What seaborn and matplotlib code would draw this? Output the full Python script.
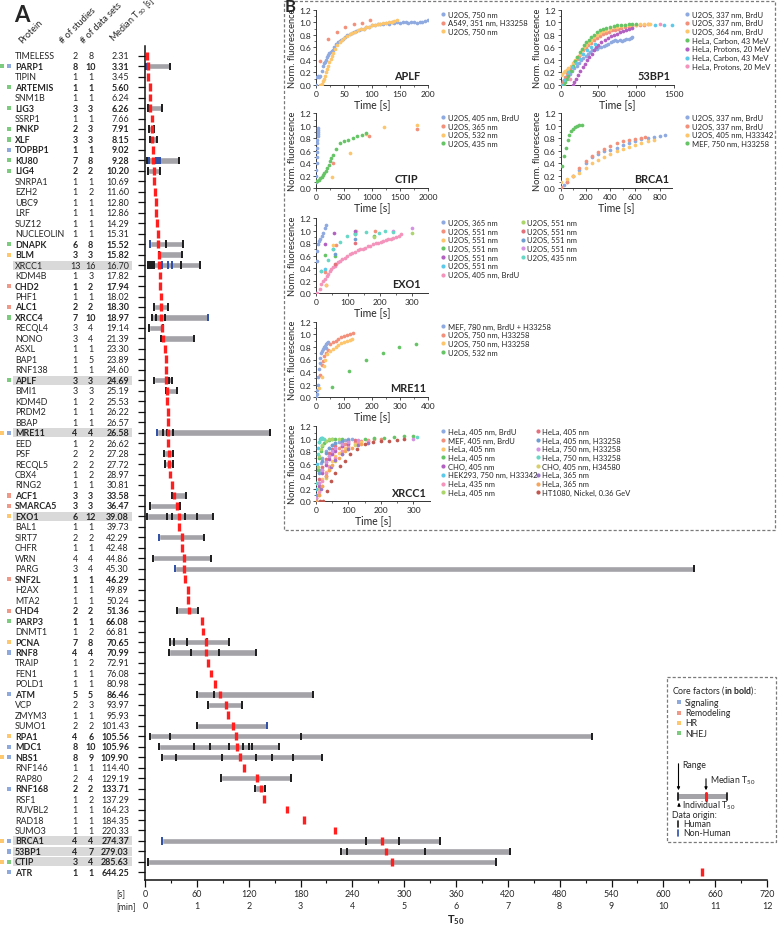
import numpy as np
import seaborn as sns
import matplotlib.pyplot as plt
from matplotlib import transforms
from matplotlib.patches import Rectangle

W, H = 779, 929

# ---------------- panel A data ----------------
proteins = ["TIMELESS", "PARP1", "TIPIN", "ARTEMIS", "SNM1B", "LIG3", "SSRP1", "PNKP", "XLF", "TOPBP1",
            "KU80", "LIG4", "SNRPA1", "EZH2", "UBC9", "LRF", "SUZ12", "NUCLEOLIN", "DNAPK", "BLM",
            "XRCC1", "KDM4B", "CHD2", "PHF1", "ALC1", "XRCC4", "RECQL4", "NONO", "ASXL", "BAP1",
            "RNF138", "APLF", "BMI1", "KDM4D", "PRDM2", "BBAP", "MRE11", "EED", "PSF", "RECQL5",
            "CBX4", "RING2", "ACF1", "SMARCA5", "EXO1", "BAL1", "SIRT7", "CHFR", "WRN", "PARG",
            "SNF2L", "H2AX", "MTA2", "CHD4", "PARP3", "DNMT1", "PCNA", "RNF8", "TRAIP", "FEN1",
            "POLD1", "ATM", "VCP", "ZMYM3", "SUMO1", "RPA1", "MDC1", "NBS1", "RNF146", "RAP80",
            "RNF168", "RSF1", "RUVBL2", "RAD18", "SUMO3", "BRCA1", "53BP1", "CTIP", "ATR"]
n_studies = [2, 8, 1, 1, 1, 3, 1, 2, 3, 1, 7, 2, 1, 1, 1, 1, 1, 1, 6, 3,
             13, 1, 1, 1, 2, 7, 3, 3, 1, 1, 1, 3, 3, 1, 1, 1, 4, 1, 2, 2,
             1, 1, 3, 3, 6, 1, 2, 1, 4, 3, 1, 1, 1, 2, 1, 1, 7, 4, 1, 1,
             1, 5, 2, 1, 2, 4, 8, 8, 1, 2, 2, 1, 1, 1, 1, 4, 4, 3, 1]
n_datasets = [8, 10, 1, 1, 1, 3, 1, 3, 3, 1, 8, 2, 1, 2, 1, 1, 1, 1, 8, 3,
              16, 3, 2, 1, 2, 10, 4, 4, 1, 5, 1, 3, 3, 2, 1, 1, 4, 2, 2, 2,
              2, 1, 3, 3, 12, 1, 2, 1, 4, 4, 1, 1, 1, 2, 1, 2, 8, 4, 2, 1,
              1, 5, 3, 1, 2, 6, 10, 9, 1, 4, 2, 2, 1, 1, 1, 4, 7, 4, 1]
median_t50 = [2.31, 3.31, 3.45, 5.60, 6.24, 6.26, 7.66, 7.91, 8.15, 9.02,
              9.28, 10.20, 10.69, 11.60, 12.80, 12.86, 14.29, 15.31, 15.52, 15.82,
              16.70, 17.82, 17.94, 18.02, 18.30, 18.97, 19.14, 21.39, 23.30, 23.89,
              24.60, 24.69, 25.19, 25.53, 26.22, 26.57, 26.58, 26.62, 27.28, 27.72,
              28.97, 30.81, 33.58, 36.47, 39.08, 39.73, 42.29, 42.48, 44.86, 45.30,
              46.29, 49.89, 50.24, 51.36, 66.08, 66.81, 70.65, 70.99, 72.91, 76.08,
              80.98, 86.46, 93.97, 95.93, 101.43, 105.56, 105.96, 109.90, 114.40, 129.19,
              133.71, 137.29, 164.23, 184.35, 220.33, 274.37, 279.03, 285.63, 644.25]

# core factors: main class and (for some) an additional class
core_main = {"PARP1": "Signaling", "ARTEMIS": "NHEJ", "LIG3": "NHEJ", "PNKP": "NHEJ", "XLF": "NHEJ",
             "TOPBP1": "Signaling", "KU80": "NHEJ", "LIG4": "NHEJ", "DNAPK": "NHEJ", "BLM": "HR",
             "CHD2": "Remodeling", "ALC1": "Remodeling", "XRCC4": "NHEJ", "APLF": "NHEJ",
             "MRE11": "Signaling", "ACF1": "Remodeling", "SMARCA5": "Remodeling", "EXO1": "HR",
             "SNF2L": "Remodeling", "CHD4": "Remodeling", "PARP3": "NHEJ", "PCNA": "HR",
             "RNF8": "Signaling", "ATM": "Signaling", "RPA1": "HR", "MDC1": "Signaling",
             "NBS1": "Signaling", "RNF168": "Signaling", "BRCA1": "Signaling", "53BP1": "Signaling",
             "CTIP": "NHEJ", "ATR": "Signaling"}
core_extra = {"PARP1": "NHEJ", "MRE11": "HR", "NBS1": "HR", "BRCA1": "HR", "CTIP": "HR"}
highlighted = ["XRCC1", "APLF", "MRE11", "EXO1", "BRCA1", "53BP1", "CTIP"]
class_names = ["Signaling", "Remodeling", "HR", "NHEJ"]
class_colors = {"Signaling": "#8eaadc", "Remodeling": "#ef9a88", "HR": "#fec86e", "NHEJ": "#7ccb7e"}

# range of individual T50 values [s]
range_lo = {"PARP1": 0.5, "LIG3": 3.1, "PNKP": 4.6, "XLF": 5.8, "KU80": 1.9, "LIG4": 3.1,
            "DNAPK": 5.8, "BLM": 16.0, "XRCC1": 3.1, "ALC1": 10.8, "XRCC4": 7.7, "RECQL4": 5.0,
            "NONO": 18.5, "APLF": 10.8, "BMI1": 24.0, "MRE11": 13.9, "PSF": 22.0, "RECQL5": 23.1,
            "ACF1": 31.2, "SMARCA5": 5.8, "EXO1": 1.9, "SIRT7": 16.6, "WRN": 8.9, "PARG": 34.7,
            "CHD4": 37.4, "PCNA": 28.9, "RNF8": 28.2, "ATM": 59.8, "VCP": 73.3, "SUMO1": 59.8,
            "RPA1": 5.8, "MDC1": 16.6, "NBS1": 19.7, "RAP80": 88.0, "RNF168": 127.3,
            "BRCA1": 20.0, "53BP1": 226.7, "CTIP": 4.0}
range_hi = {"PARP1": 29.0, "LIG3": 19.3, "PNKP": 10.8, "XLF": 14.3, "KU80": 39.7, "LIG4": 17.4,
            "DNAPK": 43.6, "BLM": 42.8, "XRCC1": 63.7, "ALC1": 26.2, "XRCC4": 72.5, "RECQL4": 21.2,
            "NONO": 56.3, "APLF": 30.9, "BMI1": 36.7, "MRE11": 144.7, "PSF": 32.8, "RECQL5": 32.8,
            "ACF1": 47.5, "SMARCA5": 40.5, "EXO1": 79.1, "SIRT7": 68.7, "WRN": 76.4, "PARG": 635.0,
            "CHD4": 61.7, "PCNA": 97.6, "RNF8": 128.5, "ATM": 194.0, "VCP": 111.9, "SUMO1": 140.8,
            "RPA1": 517.0, "MDC1": 155.4, "NBS1": 204.9, "RAP80": 168.6, "RNF168": 138.9,
            "BRCA1": 342.0, "53BP1": 423.0, "CTIP": 406.6}
human_t50 = {"PARP1": [2.0, 29.0], "LIG3": [3.1, 19.3], "PNKP": [4.6, 10.8], "XLF": [5.8, 14.3],
             "KU80": [1.9, 39.7], "LIG4": [3.1, 17.4], "DNAPK": [24.3, 43.6], "BLM": [16.0, 42.8],
             "XRCC1": [3.1, 5.8, 8.5, 10.8, 41.7, 63.7], "ALC1": [10.8, 26.2],
             "XRCC4": [7.7, 12.7, 23.1], "RECQL4": [5.0, 21.2], "NONO": [18.5, 56.3],
             "APLF": [10.8, 27.8, 30.9], "BMI1": [24.0, 36.7], "MRE11": [20.4, 25.1, 32.8, 144.7],
             "PSF": [22.0, 32.8], "RECQL5": [23.1, 32.8], "ACF1": [31.2, 47.5], "SMARCA5": [5.8, 40.5],
             "EXO1": [1.9, 25.1, 31.6, 46.3, 59.8, 79.1], "SIRT7": [68.7], "WRN": [8.9, 76.4],
             "PARG": [635.0], "CHD4": [37.4, 61.7], "PCNA": [28.9, 33.9, 48.2, 72.1, 97.6],
             "RNF8": [28.2, 52.9, 86.0, 128.5], "ATM": [59.8, 79.9, 194.0], "VCP": [73.3, 111.9],
             "SUMO1": [59.8], "RPA1": [5.8, 28.9, 180.2, 517.0],
             "MDC1": [16.6, 57.1, 75.2, 96.8, 113.8, 120.7, 123.8, 155.4],
             "NBS1": [19.7, 35.5, 89.1, 128.1, 147.0, 171.3, 204.9], "RAP80": [88.0, 168.6],
             "RNF168": [127.3, 138.9], "BRCA1": [256.0, 294.0, 342.0],
             "53BP1": [226.7, 234.3, 324.0, 423.0], "CTIP": [4.0, 406.6]}
nonhuman_t50 = {"PARP1": [0.8], "KU80": [5.0, 12.3, 14.7, 17.0], "DNAPK": [5.8],
                "XRCC1": [19.3, 26.2, 31.6], "XRCC4": [72.5], "MRE11": [13.9], "SIRT7": [16.6],
                "PARG": [34.7], "SUMO1": [140.8], "BRCA1": [20.0]}

sec_ticks = list(range(0, 721, 60))
min_ticks = [s // 60 for s in sec_ticks]

# ---------------- panel B data ----------------
PAL = ["#8eaae0", "#f2907b", "#fdc56c", "#66c466", "#b260c2", "#5cc8ea", "#f493bb", "#acd66b",
       "#e3717c", "#6f9ed2", "#d592e2", "#67d7c6", "#d9cf6b", "#9b76ca", "#f5a55c", "#c0584f"]

aplf_labels = ["U2OS, 750 nm", "A549, 351 nm, H33258", "U2OS, 750 nm"]
aplf_t = [[0, 2, 4, 6, 8, 10, 12, 14, 16, 18, 20, 22, 24, 26, 28, 30, 33, 36, 39, 42, 45, 48, 52, 56,
           60, 64, 68, 72, 76, 80, 85, 90, 95, 100, 105, 110, 115, 120, 125, 130, 135, 140, 145, 150,
           155, 160, 165, 170, 175, 180, 185, 190, 195, 200],
          [7, 22, 37, 52, 67, 82, 97],
          [8, 10, 12, 14, 16, 18, 20, 22, 24, 26, 28, 30, 34, 38, 42, 46, 50, 55, 60, 65, 70, 75, 80,
           85, 90, 95, 100, 105, 110, 115, 120, 125, 130, 135, 140, 145]]
aplf_y = [[0.00, 0.12, 0.14, 0.12, 0.15, 0.22, 0.30, 0.35, 0.36, 0.40, 0.44, 0.48, 0.51, 0.53, 0.54,
           0.56, 0.60, 0.65, 0.68, 0.70, 0.72, 0.74, 0.77, 0.79, 0.81, 0.83, 0.85, 0.86, 0.88, 0.89,
           0.90, 0.92, 0.93, 0.95, 0.96, 0.97, 0.97, 0.98, 0.99, 0.98, 1.00, 0.99, 1.00, 0.99, 1.01,
           1.00, 0.99, 1.01, 1.00, 0.99, 1.01, 1.00, 1.02, 1.03],
          [0.39, 0.73, 0.84, 0.93, 0.97, 0.99, 1.04],
          [0.00, 0.02, 0.06, 0.10, 0.15, 0.20, 0.25, 0.30, 0.36, 0.42, 0.47, 0.51, 0.57, 0.63, 0.68,
           0.72, 0.75, 0.78, 0.81, 0.83, 0.85, 0.87, 0.89, 0.90, 0.92, 0.93, 0.95, 0.96, 0.97, 0.98,
           0.99, 0.99, 1.00, 1.01, 1.02, 1.03]]

bp53_labels = ["U2OS, 337 nm, BrdU", "U2OS, 337 nm, BrdU", "U2OS, 364 nm, BrdU", "HeLa, Carbon, 43 MeV",
               "HeLa, Protons, 20 MeV", "HeLa, Carbon, 43 MeV", "HeLa, Protons, 20 MeV"]
bp53_t = [[0, 30, 60, 90, 120, 150, 180, 210, 240, 270, 300, 330, 360, 390, 420, 450, 480, 510, 540,
           570, 600, 630, 660, 690, 720, 750, 780, 810, 840, 870, 900, 930, 950],
          [0, 30, 60, 90, 120, 150, 180, 210, 240, 270, 300, 330, 360, 400, 440, 480, 520, 560, 600,
           640, 680, 720, 760, 800, 850, 900, 950, 1000, 1050, 1100, 1150],
          [0, 20, 40, 60, 80, 100, 130, 160, 190, 220, 250, 280, 310, 340, 370, 400, 440, 480, 520,
           560, 600, 650, 700, 750, 800, 850, 900, 950, 1000, 1050, 1100, 1150, 1180],
          [40, 60, 80, 100, 130, 160, 190, 220, 250, 280, 310, 340, 370, 400, 440, 480, 520, 560, 600,
           650, 700, 750, 800, 850, 900, 950, 1000],
          [160, 180, 200, 230, 260, 290, 320, 350, 380, 410, 440, 470, 500, 540, 580, 620, 660, 700,
           740, 780, 820, 860, 900, 940],
          [0, 50, 100, 150, 200, 250, 300, 350, 400, 450, 1250, 1370, 1480],
          [120, 1320]]
bp53_y = [[0.00, 0.05, 0.10, 0.14, 0.18, 0.22, 0.27, 0.31, 0.35, 0.40, 0.43, 0.46, 0.50, 0.52, 0.55,
           0.57, 0.58, 0.60, 0.60, 0.62, 0.63, 0.66, 0.69, 0.70, 0.71, 0.70, 0.72, 0.70, 0.71, 0.73,
           0.74, 0.75, 0.76],
          [0.02, 0.07, 0.13, 0.19, 0.25, 0.30, 0.36, 0.41, 0.46, 0.50, 0.55, 0.59, 0.63, 0.67, 0.71,
           0.75, 0.78, 0.81, 0.83, 0.85, 0.87, 0.88, 0.90, 0.91, 0.92, 0.93, 0.94, 0.95, 0.96, 0.96, 0.97],
          [0.16, 0.18, 0.20, 0.22, 0.24, 0.27, 0.31, 0.35, 0.40, 0.45, 0.50, 0.55, 0.60, 0.64, 0.68,
           0.72, 0.76, 0.80, 0.83, 0.86, 0.88, 0.90, 0.92, 0.93, 0.94, 0.95, 0.95, 0.96, 0.96, 0.97,
           0.97, 0.98, 0.98],
          [0.00, 0.05, 0.10, 0.15, 0.22, 0.30, 0.38, 0.45, 0.52, 0.58, 0.63, 0.68, 0.72, 0.76, 0.80,
           0.84, 0.87, 0.89, 0.91, 0.93, 0.94, 0.95, 0.96, 0.96, 0.97, 0.97, 0.98],
          [0.00, 0.05, 0.10, 0.16, 0.22, 0.28, 0.34, 0.40, 0.45, 0.50, 0.55, 0.60, 0.64, 0.68, 0.72,
           0.75, 0.78, 0.80, 0.82, 0.84, 0.86, 0.88, 0.90, 0.91],
          [0.00, 0.08, 0.20, 0.28, 0.35, 0.42, 0.50, 0.55, 0.60, 0.65, 0.96, 0.96, 0.95],
          [0.10, 0.98]]

ctip_labels = ["U2OS, 405 nm, BrdU", "U2OS, 365 nm", "U2OS, 532 nm", "U2OS, 435 nm"]
ctip_t = [[0, 3, 6, 9, 12, 15, 18, 21, 24, 27, 30, 33, 36, 39],
          [300, 950, 1800],
          [290, 600, 900, 1220, 1800],
          [0, 25, 50, 75, 100, 125, 150, 175, 200, 225, 250, 275, 300, 360, 420, 500, 580, 660, 740,
           820, 900]]
ctip_y = [[0.10, 0.20, 0.30, 0.40, 0.50, 0.58, 0.65, 0.72, 0.78, 0.83, 0.87, 0.90, 0.93, 0.97],
          [0.41, 0.83, 0.95],
          [0.18, 0.56, 0.87, 0.98, 1.02],
          [0.11, 0.12, 0.14, 0.16, 0.18, 0.21, 0.24, 0.28, 0.33, 0.38, 0.44, 0.49, 0.53, 0.63, 0.72,
           0.75, 0.77, 0.80, 0.83, 0.86, 0.88]]

brca1_labels = ["U2OS, 337 nm, BrdU", "U2OS, 337 nm, BrdU", "U2OS, 405 nm, H33342", "MEF, 750 nm, H33258"]
brca1_t = [[0, 25, 50, 100, 150, 200, 250, 300, 350, 400, 450, 500, 550, 600, 650, 700, 750, 800, 840],
           [0, 50, 100, 150, 200, 250, 300, 350, 400, 450, 500, 550, 600, 650, 680],
           [0, 50, 100, 150, 200, 250, 300, 350, 400, 450, 500, 550, 600, 650, 700, 750],
           [10, 25, 40, 55, 70, 85, 100, 115, 130, 150, 170]]
brca1_y = [[0.00, 0.05, 0.10, 0.20, 0.30, 0.40, 0.50, 0.55, 0.60, 0.62, 0.65, 0.70, 0.73, 0.76, 0.79,
            0.81, 0.82, 0.84, 0.85],
           [0.02, 0.10, 0.20, 0.33, 0.43, 0.52, 0.58, 0.63, 0.68, 0.72, 0.75, 0.77, 0.79, 0.80, 0.82],
           [0.10, 0.15, 0.20, 0.25, 0.32, 0.40, 0.45, 0.50, 0.55, 0.60, 0.63, 0.66, 0.70, 0.72, 0.75, 0.77],
           [0.36, 0.52, 0.65, 0.78, 0.85, 0.92, 0.95, 0.98, 1.00, 1.01, 1.02]]

exo1_labels = ["U2OS, 365 nm", "U2OS, 551 nm", "U2OS, 551 nm", "U2OS, 551 nm", "U2OS, 551 nm",
               "U2OS, 551 nm", "U2OS, 405 nm, BrdU",
               "U2OS, 551 nm", "U2OS, 551 nm", "U2OS, 551 nm", "U2OS, 551 nm", "U2OS, 435 nm"]
exo1_t = [[0, 2, 4, 7, 10, 14, 19, 23, 27, 30],
          [31, 28, 62, 122, 183],
          [31, 54, 124],
          [28, 59, 121, 182],
          [28, 57, 122],
          [28, 16, 54],
          [2, 12, 17, 22, 28, 33, 38, 43, 48, 53, 58, 63, 68, 75, 82, 90, 98, 106, 114, 122, 130, 138,
           146, 154, 162, 170, 178, 186, 194, 202, 210, 218, 226, 234, 242, 250, 258, 266],
          [300, 182],
          [59, 122],
          [59, 122],
          [300, 240],
          [15, 36, 54, 76, 98, 121, 157, 196, 217, 240]]
exo1_y = [[0.00, 0.51, 0.67, 0.79, 0.83, 0.87, 0.92, 0.97, 1.04, 1.10],
          [0.13, 0.34, 0.77, 0.95, 0.99],
          [0.13, 0.77, 1.00],
          [0.61, 0.60, 0.96, 0.91],
          [0.79, 0.97, 1.00],
          [0.39, 0.35, 0.70],
          [0.00, 0.07, 0.14, 0.19, 0.22, 0.27, 0.31, 0.35, 0.39, 0.41, 0.44, 0.47, 0.50, 0.52, 0.54,
           0.57, 0.60, 0.62, 0.64, 0.66, 0.69, 0.70, 0.71, 0.73, 0.75, 0.76, 0.78, 0.80, 0.81, 0.82,
           0.83, 0.85, 0.86, 0.87, 0.89, 0.90, 0.91, 0.94],
          [0.97, 0.90],
          [0.47, 0.81],
          [0.63, 0.86],
          [1.04, 1.00],
          [0.35, 0.53, 0.70, 0.82, 0.91, 0.95, 0.98, 0.97, 0.99, 0.98]]

mre11_labels = ["MEF, 780 nm, BrdU + H33258", "U2OS, 750 nm, H33258", "U2OS, 750 nm, H33258", "U2OS, 532 nm"]
mre11_t = [[0, 2, 4, 6, 8, 10, 13, 16, 19, 22, 25, 28, 31, 34, 37, 40, 43],
           [15, 20, 25, 30, 35, 42, 50, 60, 70, 80, 90, 100, 110, 120, 133],
           [12, 20, 27, 33, 40, 50, 60, 70, 80, 90, 100, 110, 120, 130],
           [57, 118, 178, 238, 297, 358]]
mre11_y = [[0.00, 0.05, 0.12, 0.20, 0.32, 0.45, 0.55, 0.63, 0.70, 0.74, 0.77, 0.80, 0.82, 0.78, 0.84,
            0.86, 0.88],
           [0.35, 0.52, 0.58, 0.65, 0.70, 0.75, 0.84, 0.87, 0.90, 0.92, 0.95, 0.97, 0.99, 1.00, 1.02],
           [0.15, 0.33, 0.50, 0.60, 0.68, 0.73, 0.77, 0.80, 0.83, 0.86, 0.88, 0.90, 0.91, 0.92],
           [0.17, 0.42, 0.60, 0.71, 0.80, 0.85]]

xrcc1_labels = ["HeLa, 405 nm, BrdU", "MEF, 405 nm, BrdU", "HeLa, 405 nm", "HeLa, 405 nm", "CHO, 405 nm",
                "HEK293, 750 nm, H33342", "HeLa, 435 nm", "HeLa, 405 nm",
                "HeLa, 405 nm", "HeLa, 405 nm, H33258", "HeLa, 750 nm, H33258", "HeLa, 750 nm, H33258",
                "CHO, 405 nm, H34580", "HeLa, 365 nm", "HeLa, 365 nm", "HT1080, Nickel, 0.36 GeV"]
xrcc1_t = [[0, 5, 10, 15, 20, 30, 40, 50, 60, 70, 80, 90, 100, 110],
           [0, 10, 20, 30, 40, 50, 60, 70, 80, 90, 100, 120, 140, 160, 180, 200],
           [0, 10, 20, 30, 40, 50, 60, 70, 80, 90, 100, 120, 140, 160],
           [0, 5, 10, 15, 20, 25, 30, 40, 50, 60, 80, 150, 180, 210, 240, 270, 300],
           [0, 10, 20, 30, 40, 50, 60, 80, 100],
           [0, 3, 6, 9, 12, 15, 20],
           [0, 10, 20, 30, 40, 60, 80, 100, 130, 160],
           [0, 5, 10, 15, 20, 30, 40, 50, 70],
           [0, 10, 20, 30, 40, 50, 60, 80, 100, 120],
           [0, 10, 20, 30, 40, 50, 60, 80, 100],
           [0, 10, 20, 30, 40, 50, 60, 80, 100, 130, 300],
           [0, 5, 10, 15, 20, 25, 310],
           [0, 10, 20, 30, 40, 60, 80, 100, 120],
           [0, 15, 30, 45, 60, 80, 100, 130, 160],
           [0, 10, 20, 30, 40, 50, 70, 90, 110, 140],
           [12, 22, 35, 45, 59, 74, 89, 105, 125, 151, 177, 200, 225, 250, 270]]
xrcc1_y = [[0.10, 0.30, 0.50, 0.62, 0.70, 0.80, 0.86, 0.90, 0.93, 0.95, 0.97, 0.98, 0.99, 1.00],
           [0.05, 0.30, 0.50, 0.63, 0.72, 0.78, 0.83, 0.86, 0.89, 0.91, 0.93, 0.95, 0.97, 0.98, 0.99, 1.00],
           [0.05, 0.20, 0.35, 0.47, 0.57, 0.65, 0.72, 0.77, 0.81, 0.85, 0.88, 0.92, 0.95, 0.97],
           [0.20, 0.50, 0.70, 0.80, 0.88, 0.93, 0.96, 0.98, 0.99, 1.00, 1.00, 1.00, 1.01, 1.02, 1.03,
            1.04, 1.05],
           [0.00, 0.25, 0.45, 0.58, 0.68, 0.75, 0.80, 0.88, 0.92],
           [0.20, 0.60, 0.85, 0.95, 1.00, 1.02, 1.01],
           [0.00, 0.15, 0.32, 0.45, 0.55, 0.70, 0.80, 0.87, 0.93, 0.97],
           [0.30, 0.55, 0.72, 0.83, 0.90, 0.96, 0.99, 1.00, 1.00],
           [0.10, 0.35, 0.55, 0.68, 0.77, 0.83, 0.88, 0.93, 0.96, 0.98],
           [0.10, 0.45, 0.65, 0.77, 0.85, 0.90, 0.93, 0.96, 0.98],
           [0.05, 0.30, 0.50, 0.63, 0.73, 0.80, 0.85, 0.91, 0.95, 0.98, 1.00],
           [0.30, 0.75, 0.95, 1.00, 1.02, 1.00, 1.03],
           [0.00, 0.10, 0.25, 0.38, 0.50, 0.65, 0.76, 0.84, 0.90],
           [0.00, 0.20, 0.40, 0.55, 0.66, 0.76, 0.83, 0.90, 0.94],
           [0.00, 0.10, 0.25, 0.40, 0.50, 0.58, 0.70, 0.80, 0.86, 0.92],
           [0.00, 0.00, 0.17, 0.33, 0.45, 0.57, 0.65, 0.76, 0.84, 0.92, 0.95, 0.96, 0.97, 0.98, 0.99]]

# ---------------- style ----------------
sns.set_theme(style="ticks")
plt.rcParams["font.family"] = ["Lato", "DejaVu Sans"]
plt.rcParams["mathtext.fontset"] = "custom"
plt.rcParams["mathtext.rm"] = "Lato"
plt.rcParams["mathtext.bf"] = "Lato:bold"
plt.rcParams["mathtext.it"] = "Lato:italic"
plt.rcParams["axes.facecolor"] = "none"

FS_TAB = 6.4
FS_LEG = 5.5

fig = plt.figure(figsize=(W / 100, H / 100), dpi=100)


def px_rect(x0, x1, ytop, ybot):
    return [x0 / W, 1 - ybot / H, (x1 - x0) / W, (ybot - ytop) / H]


# ---------------- panel A ----------------
axA = fig.add_axes(px_rect(145, 767, 46.7, 880.7))
axA.set_xlim(0, 720)
axA.set_ylim(78.7, -0.955)
rows = np.arange(len(proteins))

lo = np.array([range_lo.get(p, np.nan) for p in proteins])
hi = np.array([range_hi.get(p, np.nan) for p in proteins])
axA.barh(rows, hi - lo, left=lo, height=0.6, color="#a4a4a8", zorder=1)
for i, p in enumerate(proteins):
    if p in human_t50:
        axA.vlines(human_t50[p], i - 0.35, i + 0.35, color="#1b1b1b", lw=1.4, zorder=2)
    if p in nonhuman_t50:
        axA.vlines(nonhuman_t50[p], i - 0.35, i + 0.35, color="#2d4fa6", lw=1.4, zorder=2)
axA.vlines(median_t50, rows - 0.37, rows + 0.37, color="#ff1f1f", lw=2.4, zorder=3)

for s in ["top", "right"]:
    axA.spines[s].set_visible(False)
for s in ["left", "bottom"]:
    axA.spines[s].set_linewidth(1.1)
    axA.spines[s].set_color("#111111")
axA.set_yticks(rows)
axA.set_yticklabels([])
axA.tick_params(axis="y", length=5, width=0.9, color="#111111", direction="out")
axA.set_xticks(sec_ticks)
axA.set_xticks(range(30, 720, 60), minor=True)
axA.set_xticklabels([])
axA.tick_params(axis="x", which="major", length=5, width=0.9, color="#111111")
axA.tick_params(axis="x", which="minor", length=2.5, width=0.8, color="#111111", bottom=True)

tr = transforms.blended_transform_factory(fig.transFigure, axA.transData)
for i, p in enumerate(proteins):
    fw = "bold" if p in core_main else "normal"
    if p in highlighted:
        axA.add_patch(Rectangle((13 / W, i - 0.43), 119 / W, 0.86, transform=tr,
                                facecolor="#d9d9d9", edgecolor="none", clip_on=False, zorder=0))
    axA.text(15 / W, i, p, transform=tr, ha="left", va="center", fontsize=FS_TAB, fontweight=fw)
    axA.text(75 / W, i, str(n_studies[i]), transform=tr, ha="center", va="center", fontsize=FS_TAB, fontweight=fw)
    axA.text(90.7 / W, i, str(n_datasets[i]), transform=tr, ha="center", va="center", fontsize=FS_TAB, fontweight=fw)
    axA.text(129 / W, i, f"{median_t50[i]:.2f}", transform=tr, ha="right", va="center", fontsize=FS_TAB, fontweight=fw)
    if p in core_main:
        axA.add_patch(Rectangle((7.3 / W, i - 0.2), 3.8 / W, 0.4, transform=tr,
                                facecolor=class_colors[core_main[p]], edgecolor="none", clip_on=False))
    if p in core_extra:
        axA.add_patch(Rectangle((0.3 / W, i - 0.2), 3.8 / W, 0.4, transform=tr,
                                facecolor=class_colors[core_extra[p]], edgecolor="none", clip_on=False))

trx = transforms.blended_transform_factory(axA.transData, fig.transFigure)
for s, m in zip(sec_ticks, min_ticks):
    axA.text(s, 1 - 895 / H, str(s), transform=trx, ha="center", va="center", fontsize=6.4)
    axA.text(s, 1 - 907 / H, str(m), transform=trx, ha="center", va="center", fontsize=6.4)

# ---------------- overlay (pixel coordinates) ----------------
ov = fig.add_axes([0, 0, 1, 1], zorder=5)
ov.set_xlim(0, W)
ov.set_ylim(H, 0)
ov.axis("off")

ov.text(116, 895, "[s]", ha="left", va="center", fontsize=6.4)
ov.text(116, 907, "[min]", ha="left", va="center", fontsize=6.4)
ov.text(456, 920, r"T$_{\bf 50}$", ha="center", va="center", fontsize=8, fontweight="bold")

ov.text(14, 15, "A", ha="left", va="center", fontsize=16, fontweight="bold")
ov.text(285, 6.5, "B", ha="left", va="center", fontsize=12, fontweight="bold")

for x, lab in [(24, "Protein"), (64, "# of studies"), (85, "# of data sets"), (116, r"Median T$_{50}$ [s]")]:
    ov.text(x, 45, lab, rotation=45, rotation_mode="anchor", ha="left", va="bottom", fontsize=6.6)

# dashed frame of panel B
ov.add_patch(Rectangle((284, 1.7), 491, 529, fill=False, edgecolor="#7a7a7a", lw=0.9,
                       linestyle=(0, (2.5, 1.6))))

# legend box of panel A
ov.add_patch(Rectangle((666.7, 678), 109.3, 165, facecolor="white", edgecolor="#7a7a7a", lw=0.9,
                       linestyle=(0, (2.5, 1.6))))
FS_BOX = 6.3
ov.text(672, 691, r"Core factors ($\bf{in\ bold}$):", ha="left", va="center", fontsize=FS_BOX)
for k, name in enumerate(class_names):
    yy = 703.3 + k * 10.3
    ov.add_patch(Rectangle((677.5, yy - 2), 4, 4, facecolor=class_colors[name], edgecolor="none"))
    ov.text(685, yy, name, ha="left", va="center", fontsize=FS_BOX)
ov.text(682, 765, "Range", ha="left", va="center", fontsize=FS_BOX)
ov.annotate("", xy=(678.5, 794), xytext=(678.5, 762),
            arrowprops=dict(arrowstyle="-|>", lw=0.8, color="black", mutation_scale=4))
ov.text(710, 781, r"Median T$_{50}$", ha="left", va="center", fontsize=FS_BOX)
ov.annotate("", xy=(706, 794), xytext=(706, 777),
            arrowprops=dict(arrowstyle="-|>", lw=0.8, color="black", mutation_scale=4))
ov.add_patch(Rectangle((678.5, 794.5), 49, 5.5, facecolor="#a4a4a8", edgecolor="none"))
ov.plot([678.5, 678.5], [793.8, 800.8], color="#1b1b1b", lw=1.3)
ov.plot([727.5, 727.5], [793.8, 800.8], color="#1b1b1b", lw=1.3)
ov.plot([706, 706], [793.6, 801], color="#ff1f1f", lw=2.2)
ov.annotate("", xy=(679, 801), xytext=(679, 809),
            arrowprops=dict(arrowstyle="-|>", lw=0.8, color="black", mutation_scale=4))
ov.text(682, 806, r"Individual T$_{50}$", ha="left", va="center", fontsize=FS_BOX)
ov.text(672, 816, "Data origin:", ha="left", va="center", fontsize=FS_BOX)
ov.plot([678.5, 678.5], [822, 828], color="#1b1b1b", lw=1.2)
ov.text(683, 825, "Human", ha="left", va="center", fontsize=FS_BOX)
ov.plot([678.5, 678.5], [831, 837], color="#2d4fa6", lw=1.2)
ov.text(683, 834, "Non-Human", ha="left", va="center", fontsize=FS_BOX)


# ---------------- panel B ----------------
def draw_panel(rect, xlim, xticks, labels, ts, ys, title, title_xy, legends):
    ax = fig.add_axes(px_rect(*rect))
    for k, (t, y) in enumerate(zip(ts, ys)):
        sns.scatterplot(x=t, y=y, color=PAL[k], s=7, linewidth=0, ax=ax, legend=False, zorder=3)
    ax.set_xlim(*xlim)
    ax.set_ylim(0, 1.2)
    ax.set_xticks(xticks)
    ax.set_yticks(np.arange(0, 1.21, 0.2))
    ax.set_yticklabels([f"{v:.1f}" for v in np.arange(0, 1.21, 0.2)])
    ax.set_xticks(np.array(xticks[:-1]) + (xticks[1] - xticks[0]) / 2, minor=True)
    ax.set_yticks(np.arange(0.1, 1.2, 0.2), minor=True)
    ax.tick_params(which="major", length=2.2, width=0.6, labelsize=6.0, pad=1.2, color="#333333")
    ax.tick_params(which="minor", length=1.2, width=0.5, color="#333333", bottom=True, left=True)
    for s in ["top", "right"]:
        ax.spines[s].set_visible(False)
    for s in ["left", "bottom"]:
        ax.spines[s].set_linewidth(0.7)
        ax.spines[s].set_color("#333333")
    ax.set_xlabel("Time [s]", fontsize=7.6, labelpad=1)
    ax.set_ylabel("Norm. fluorescence", fontsize=6.7, labelpad=1.5)
    ax.text(title_xy[0], title_xy[1], title, transform=ax.transAxes, ha="right", va="center",
            fontsize=7.8, fontweight="bold")
    # legend entries, drawn in pixel coordinates with a fixed row pitch
    for (i0, i1, x_px, y_px) in legends:
        for j, k in enumerate(range(i0, i1)):
            yy = y_px + j * 8.7
            ov.scatter([x_px], [yy], s=9, color=PAL[k], linewidths=0)
            ov.text(x_px + 4.3, yy, labels[k], ha="left", va="center", fontsize=FS_LEG)
    return ax


draw_panel((316, 428, 10.7, 86), (0, 200), [0, 50, 100, 150, 200], aplf_labels, aplf_t, aplf_y,
           "APLF", (0.93, 0.13), [(0, 3, 443.3, 15)])
draw_panel((560.7, 674, 10.7, 86), (0, 1500), [0, 500, 1000, 1500], bp53_labels, bp53_t, bp53_y,
           "53BP1", (0.965, 0.13), [(0, 7, 687.3, 15)])
draw_panel((316, 428, 114.3, 189.3), (0, 2000), [0, 500, 1000, 1500, 2000], ctip_labels, ctip_t, ctip_y,
           "CTIP", (0.91, 0.13), [(0, 4, 443.3, 118.3)])
draw_panel((560.7, 672.4, 114.3, 189.3), (0, 900), [0, 200, 400, 600, 800], brca1_labels, brca1_t, brca1_y,
           "BRCA1", (0.975, 0.13), [(0, 4, 687.3, 118.3)])
draw_panel((316, 428, 219.3, 294), (0, 350), [0, 100, 200, 300], exo1_labels, exo1_t, exo1_y,
           "EXO1", (0.935, 0.13), [(0, 7, 443.3, 223.3), (7, 12, 522.7, 223.3)])
draw_panel((316, 428, 322.7, 398.3), (0, 400), [0, 100, 200, 300, 400], mre11_labels, mre11_t, mre11_y,
           "MRE11", (0.985, 0.13), [(0, 4, 443.3, 327)])
draw_panel((316, 429.7, 427.3, 502.3), (0, 350), [0, 100, 200, 300], xrcc1_labels, xrcc1_t, xrcc1_y,
           "XRCC1", (0.975, 0.115), [(0, 8, 443.3, 432.3), (8, 16, 538, 432.3)])

fig.savefig("out.png", dpi=100)
